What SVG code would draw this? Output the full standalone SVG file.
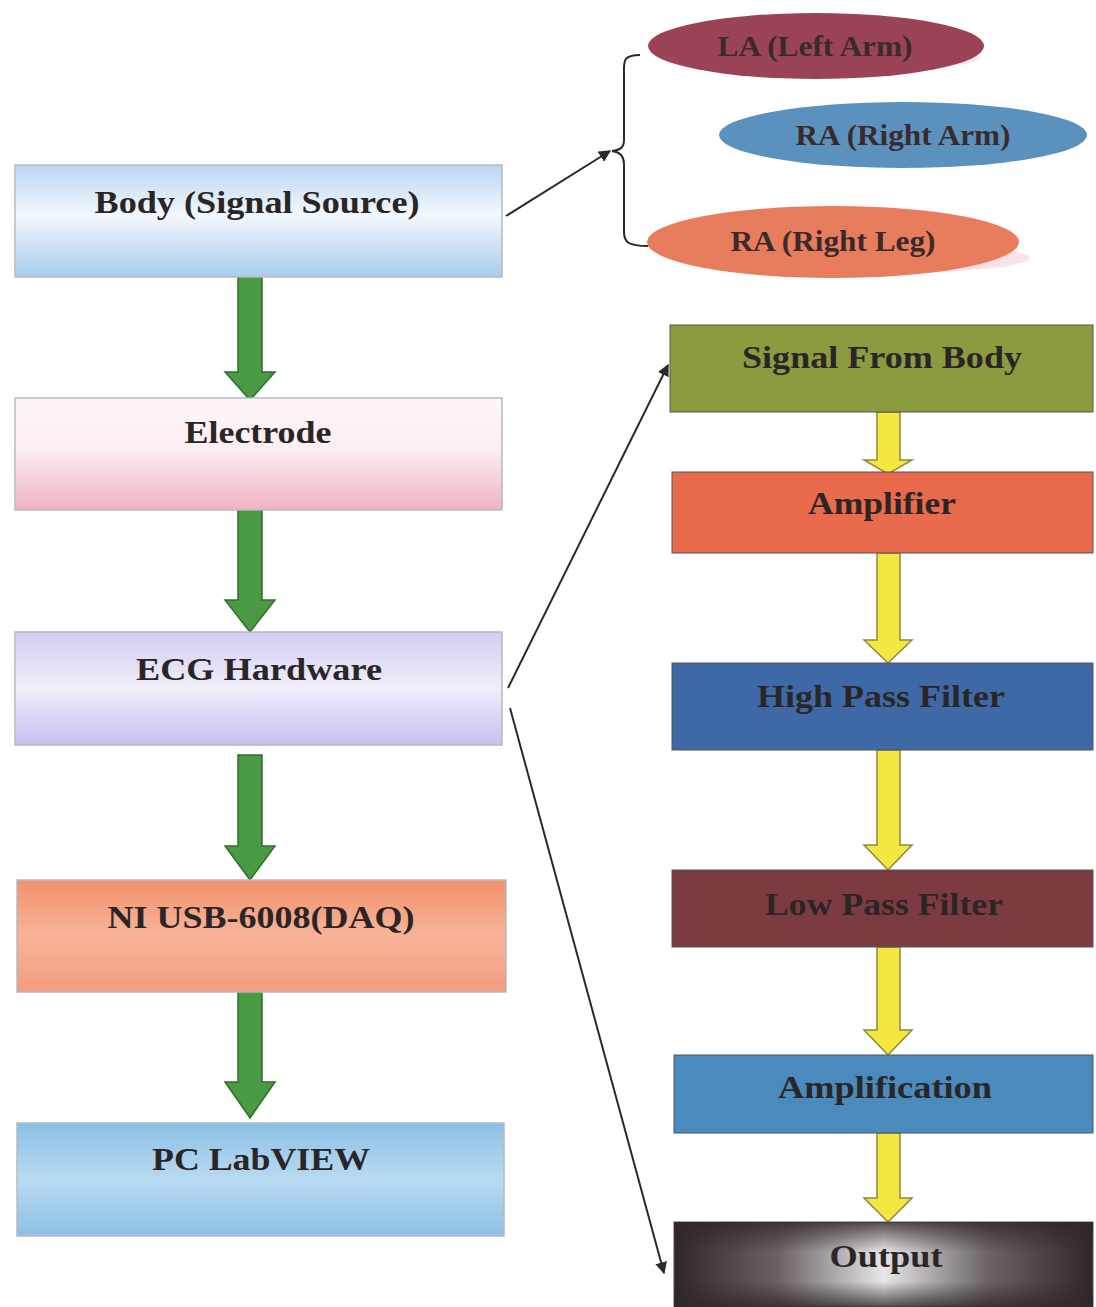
<svg xmlns="http://www.w3.org/2000/svg" width="1096" height="1307" viewBox="0 0 1096 1307">
<defs>
<style>
.t{font-family:"Liberation Serif","Times New Roman",serif;font-weight:bold;font-size:32px;fill:#2b2626;text-anchor:middle}
.tr{font-family:"Liberation Serif","Times New Roman",serif;font-weight:bold;font-size:32px;fill:#2b2626;text-anchor:middle}
.te{font-family:"Liberation Serif","Times New Roman",serif;font-weight:bold;font-size:29px;fill:#3a2a2c;text-anchor:middle}
.box{stroke:#b9b9c4;stroke-width:1.5}
.rbox{stroke:#555;stroke-width:1}
.con{fill:none;stroke:#2a2a2a;stroke-width:2}
.garrow{fill:#4a9a44;stroke:#2f6e2c;stroke-width:1.5}
.yarrow{fill:#f5e642;stroke:#8a8a3a;stroke-width:1.5}
</style>
<linearGradient id="gBody" x1="0" y1="0" x2="0" y2="1">
<stop offset="0" stop-color="#b9d7f2"/><stop offset="0.45" stop-color="#f3f8fd"/><stop offset="1" stop-color="#a9cdec"/>
</linearGradient>
<linearGradient id="gElec" x1="0" y1="0" x2="0" y2="1">
<stop offset="0" stop-color="#fdf7f9"/><stop offset="0.45" stop-color="#fbeef2"/><stop offset="1" stop-color="#f0b3c2"/>
</linearGradient>
<linearGradient id="gEcg" x1="0" y1="0" x2="0" y2="1">
<stop offset="0" stop-color="#d2cdf2"/><stop offset="0.5" stop-color="#f1eefb"/><stop offset="1" stop-color="#c6c0ee"/>
</linearGradient>
<linearGradient id="gNi" x1="0" y1="0" x2="0" y2="1">
<stop offset="0" stop-color="#f2916c"/><stop offset="0.5" stop-color="#f8b49a"/><stop offset="1" stop-color="#f29c7c"/>
</linearGradient>
<linearGradient id="gPc" x1="0" y1="0" x2="0" y2="1">
<stop offset="0" stop-color="#8cc0e6"/><stop offset="0.5" stop-color="#b9daf1"/><stop offset="1" stop-color="#8cc0e6"/>
</linearGradient>
<linearGradient id="gOut" x1="0" y1="0" x2="1" y2="0">
<stop offset="0" stop-color="#2e2628"/><stop offset="0.25" stop-color="#6a6266"/><stop offset="0.5" stop-color="#e8e6e8"/><stop offset="0.75" stop-color="#6a6266"/><stop offset="1" stop-color="#2e2628"/>
</linearGradient>
<linearGradient id="gOutV" x1="0" y1="0" x2="0" y2="1">
<stop offset="0" stop-color="#2e2628" stop-opacity="0.8"/><stop offset="0.35" stop-color="#2e2628" stop-opacity="0"/><stop offset="0.7" stop-color="#2e2628" stop-opacity="0"/><stop offset="1" stop-color="#2e2628" stop-opacity="0.8"/>
</linearGradient>
<marker id="ah" viewBox="0 0 10 10" refX="9" refY="5" markerWidth="6" markerHeight="6" orient="auto">
<path d="M0,0 L10,5 L0,10 z" fill="#2a2a2a"/>
</marker>
</defs>
<rect width="1096" height="1307" fill="#ffffff"/>

<g id="connectors">
<path class="con" d="M506,216 L610,151" marker-end="url(#ah)"/>
<path class="con" d="M640,55 C622,55 624,62 624,75 L624,140 C624,148 620,150 612,151 C620,152 624,156 624,164 L624,232 C624,242 628,246 648,246"/>
<path class="con" d="M508,688 L668,365" marker-end="url(#ah)"/>
<path class="con" d="M510,708 L664,1273" marker-end="url(#ah)"/>
<polygon class="garrow" points="238,277 262,277 262,372 275,372 250,400 225,372 238,372"/>
<polygon class="garrow" points="238,510 262,510 262,600 275,600 250,632 225,600 238,600"/>
<polygon class="garrow" points="238,755 262,755 262,846 275,846 250,880 225,846 238,846"/>
<polygon class="garrow" points="238,992 262,992 262,1082 275,1082 250,1118 225,1082 238,1082"/>
<polygon class="yarrow" points="877,412 900,412 900,460 912,460 888,474 864,460 877,460"/>
<polygon class="yarrow" points="877,553 900,553 900,640 912,640 888,663 864,640 877,640"/>
<polygon class="yarrow" points="877,750 900,750 900,845 912,845 888,870 864,845 877,845"/>
<polygon class="yarrow" points="877,947 900,947 900,1030 912,1030 888,1055 864,1030 877,1030"/>
<polygon class="yarrow" points="877,1133 900,1133 900,1198 912,1198 888,1222 864,1198 877,1198"/>
</g>

<g id="la">
<ellipse cx="830" cy="58" rx="150" ry="14" fill="#f3d6dc" opacity="0.6"/>
<ellipse cx="816" cy="46" rx="168" ry="33" fill="#9b4356"/>
<text class="te" x="815" y="56" textLength="195" lengthAdjust="spacingAndGlyphs">LA (Left Arm)</text>
</g>
<g id="ra-arm">
<ellipse cx="903" cy="135" rx="184" ry="33" fill="#5b92bd"/>
<text class="te" x="903" y="145" textLength="215" lengthAdjust="spacingAndGlyphs">RA (Right Arm)</text>
</g>
<g id="ra-leg">
<ellipse cx="860" cy="258" rx="170" ry="16" fill="#f6d6de" opacity="0.7"/>
<ellipse cx="833" cy="242" rx="186" ry="36" fill="#e87d5e"/>
<text class="te" x="833" y="251" textLength="205" lengthAdjust="spacingAndGlyphs">RA (Right Leg)</text>
</g>

<g id="body">
<rect class="box" x="15" y="165" width="487" height="112" fill="url(#gBody)"/>
<text class="t" x="257" y="213" textLength="325" lengthAdjust="spacingAndGlyphs">Body (Signal Source)</text>
</g>
<g id="electrode">
<rect class="box" x="15" y="398" width="487" height="112" fill="url(#gElec)"/>
<text class="t" x="258" y="443" textLength="147" lengthAdjust="spacingAndGlyphs">Electrode</text>
</g>
<g id="ecg">
<rect class="box" x="15" y="632" width="487" height="113" fill="url(#gEcg)"/>
<text class="t" x="259" y="680" textLength="246" lengthAdjust="spacingAndGlyphs">ECG Hardware</text>
</g>
<g id="daq">
<rect class="box" x="17" y="880" width="489" height="112" fill="url(#gNi)"/>
<text class="t" x="261" y="928" textLength="307" lengthAdjust="spacingAndGlyphs">NI USB-6008(DAQ)</text>
</g>
<g id="pc">
<rect class="box" x="17" y="1123" width="487" height="113" fill="url(#gPc)"/>
<text class="t" x="261" y="1170" textLength="218" lengthAdjust="spacingAndGlyphs">PC LabVIEW</text>
</g>

<g id="signal">
<rect class="rbox" x="670" y="325" width="423" height="87" fill="#8c9b40"/>
<text class="tr" x="882" y="368" textLength="280" lengthAdjust="spacingAndGlyphs">Signal From Body</text>
</g>
<g id="amplifier">
<rect class="rbox" x="672" y="472" width="421" height="81" fill="#e96a4c"/>
<text class="tr" x="882" y="514" textLength="148" lengthAdjust="spacingAndGlyphs">Amplifier</text>
</g>
<g id="hpf">
<rect class="rbox" x="672" y="663" width="421" height="87" fill="#3f69a6"/>
<text class="tr" x="881" y="707" textLength="248" lengthAdjust="spacingAndGlyphs">High Pass Filter</text>
</g>
<g id="lpf">
<rect class="rbox" x="672" y="870" width="421" height="77" fill="#7c3b41"/>
<text class="tr" x="884" y="915" textLength="238" lengthAdjust="spacingAndGlyphs">Low Pass Filter</text>
</g>
<g id="amplification">
<rect class="rbox" x="674" y="1055" width="419" height="78" fill="#4b8abc"/>
<text class="tr" x="885" y="1098" textLength="214" lengthAdjust="spacingAndGlyphs">Amplification</text>
</g>
<g id="output">
<rect class="rbox" x="674" y="1222" width="419" height="85" fill="url(#gOut)"/>
<rect x="674" y="1222" width="419" height="85" fill="url(#gOutV)"/>
<text class="tr" x="886" y="1267" textLength="113" lengthAdjust="spacingAndGlyphs">Output</text>
</g>
</svg>
